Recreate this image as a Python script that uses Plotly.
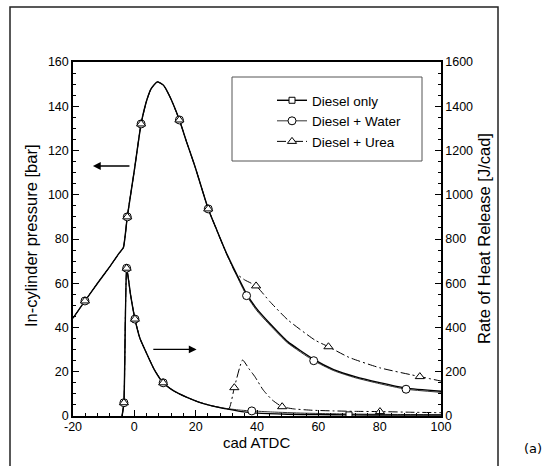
import plotly.graph_objects as go

# ---------------- data ----------------
# In-cylinder pressure [bar] vs crank angle [cad ATDC]
p_water_x = [-20, -16.1, -12, -8, -5, -3.6, -2.3, 0, 2.2, 4, 5.5, 7.5, 9.5, 11.6, 14.7, 17, 19.8, 24.1,
             26.9, 30, 33.1, 36.6, 40, 44.2, 50, 58.5, 65, 72, 80, 88.6, 100]
p_water_y = [44.2, 52, 60, 67.5, 73.5, 76, 90, 111, 132, 142.5, 148, 151, 149.5, 144.3, 133.8, 124, 112.7, 93.6,
             84, 73.5, 64.2, 54.4, 47.5, 41.1, 33, 25, 20.5, 17.3, 14.6, 12.1, 10.7]

p_diesel_x = p_water_x
p_diesel_y = [44.2, 52, 60, 67.5, 73.5, 76, 90, 111, 132, 142.5, 148, 151, 149.5, 144.3, 133.8, 124, 112.7, 93.6,
              84, 73.8, 64.8, 55.2, 48.3, 41.8, 33.6, 25.6, 21.0, 17.8, 15.1, 12.6, 11.2]

p_urea_x = [-20, -16.1, -12, -8, -5, -3.6, -2.3, 0, 2.2, 4, 5.5, 7.5, 9.5, 11.6, 14.7, 17, 19.8, 24.1,
            26.9, 30, 33.1, 36, 39.7, 44.2, 50, 58.9, 63.3, 70, 80, 93.1, 100]
p_urea_y = [44.2, 52, 60, 67.5, 73.5, 76, 90, 111, 132, 142.5, 148, 151, 149.5, 144.3, 133.8, 124, 112.7, 93.6,
            84, 73.5, 64.6, 61.5, 58.8, 51.7, 43.5, 34.3, 31.3, 26.5, 21.8, 17.8, 15.8]

# Rate of heat release [J/cad]
h_water_x = [-4.0, -3.4, -2.5, -1.2, 0.2, 1.85, 4, 6.5, 9.4, 13, 17, 21, 25, 30, 35, 38.3, 45, 55, 70, 85, 100]
h_water_y = [0, 60, 668, 545, 438, 350, 283, 210, 150, 112, 85, 63, 47, 34, 26, 23, 18, 13, 9, 7, 6]

h_diesel_x = [-4.0, -3.4, -2.5, -1.2, 0.2, 1.85, 4, 6.5, 9.4, 13, 17, 21, 25, 30, 35, 40, 50, 60, 70, 85, 100]
h_diesel_y = [0, 60, 668, 545, 438, 350, 283, 210, 150, 112, 85, 63, 47, 32, 20, 13, 8, 6, 5, 4, 4]

h_urea_x = [-4.0, -3.4, -2.5, -1.2, 0.2, 1.85, 4, 6.5, 9.4, 13, 17, 21, 25, 28, 30.8, 32.6, 35.3, 37.3,
            39.3, 42, 45, 48.2, 52, 58, 65, 72, 80.1, 90, 100]
h_urea_y = [0, 60, 668, 545, 438, 350, 283, 210, 150, 112, 85, 63, 47, 38, 32, 128, 253, 215,
            178, 118, 72, 42, 32, 26, 23, 21, 20, 17, 15]

# marker positions
m_water_p_x = [-16.1, -2.3, 2.2, 14.7, 24.1, 36.6, 58.5, 88.6]
m_water_p_y = [52, 90, 132, 133.8, 93.6, 54.4, 25, 12.1]
m_urea_p_x = [-16.1, -2.3, 2.2, 14.7, 24.1, 39.7, 63.3, 93.1]
m_urea_p_y = [52, 90, 132, 133.8, 93.6, 58.8, 31.3, 17.8]
m_water_h_x = [-3.4, -2.5, 0.2, 9.4, 38.3]
m_water_h_y = [60, 668, 438, 150, 23]
m_urea_h_x = [-3.4, -2.5, 0.2, 9.4, 32.6, 48.2, 80.1]
m_urea_h_y = [60, 668, 438, 150, 128, 42, 20]
m_diesel_h_x = [70]
m_diesel_h_y = [5]

series_names = ["Diesel only", "Diesel + Water", "Diesel + Urea"]

# tick labels
x_tickvals = [-20, 0, 20, 40, 60, 80, 100]
x_ticktext = ["-20", "0", "20", "40", "60", "80", "100"]

# arrows (tail -> head) in data units of the pressure axis
arrow_p = dict(tail_x=-1.1, head_x=-13.5, y=113)
arrow_h = dict(tail_x=5.7, head_x=20.3, y=30.1)

# ---------------- figure ----------------
FONT = "Liberation Sans, Arial, sans-serif"
fig = go.Figure()

line_styles = {
    "Diesel only": dict(color="#000000", width=1.4, dash="solid"),
    "Diesel + Water": dict(color="#333333", width=1.0, dash="solid"),
    "Diesel + Urea": dict(color="#000000", width=1.0, dash="9px,3px,2px,3px"),
}
marker_styles = {
    "Diesel only": dict(symbol="square", size=6, color="white", line=dict(color="black", width=1)),
    "Diesel + Water": dict(symbol="circle", size=8, color="white", line=dict(color="black", width=1)),
    "Diesel + Urea": dict(symbol="triangle-up", size=8, color="white", line=dict(color="black", width=1)),
}

def add_line(x, y, name, yaxis):
    fig.add_trace(go.Scatter(x=x, y=y, mode="lines", line=dict(shape="spline", smoothing=0.5, **line_styles[name]),
                             showlegend=False, yaxis=yaxis, hoverinfo="skip"))

def add_markers(x, y, name, yaxis):
    fig.add_trace(go.Scatter(x=x, y=y, mode="markers", marker=marker_styles[name],
                             showlegend=False, yaxis=yaxis, hoverinfo="skip"))

# pressure curves
add_line(p_urea_x, p_urea_y, "Diesel + Urea", "y")
add_line(p_water_x, p_water_y, "Diesel + Water", "y")
add_line(p_diesel_x, p_diesel_y, "Diesel only", "y")
# heat release curves
add_line(h_urea_x, h_urea_y, "Diesel + Urea", "y2")
add_line(h_water_x, h_water_y, "Diesel + Water", "y2")
add_line(h_diesel_x, h_diesel_y, "Diesel only", "y2")
# markers
add_markers(m_water_p_x, m_water_p_y, "Diesel + Water", "y")
add_markers(m_urea_p_x, m_urea_p_y, "Diesel + Urea", "y")
add_markers(m_water_h_x, m_water_h_y, "Diesel + Water", "y2")
add_markers(m_urea_h_x, m_urea_h_y, "Diesel + Urea", "y2")
add_markers(m_diesel_h_x, m_diesel_h_y, "Diesel only", "y2")

# legend entries
for nm in series_names:
    fig.add_trace(go.Scatter(x=[None], y=[None], mode="lines+markers", name=nm,
                             line=line_styles[nm], marker=marker_styles[nm]))

# layout geometry (pixels)
W, H = 554, 466
L, R, T, B = 73, 441, 62, 416
pw, ph = R - L, B - T
def px(xp):
    return (xp - L) / pw
def py(yp):
    return (B - yp) / ph

axis_common = dict(showgrid=False, zeroline=False, showline=True, linecolor="black", linewidth=1.5,
                   ticks="inside", tickcolor="black", tickwidth=1.2,
                   tickfont=dict(family=FONT, size=12.5, color="black"))

fig.update_layout(
    width=W, height=H,
    margin=dict(l=L, r=W - R, t=T, b=H - B),
    paper_bgcolor="white", plot_bgcolor="white",
    font=dict(family=FONT, color="black"),
    xaxis=dict(range=[-20, 100], tickvals=x_tickvals, ticktext=x_ticktext, ticklen=6, mirror=True,
               ticklabelstandoff=-2,
               minor=dict(dtick=4, ticklen=3.5, ticks="inside", tickcolor="black", tickwidth=1, showgrid=False),
               **axis_common),
    yaxis=dict(range=[0, 160], dtick=20, ticklen=6,
               minor=dict(dtick=5, ticklen=3.5, ticks="inside", tickcolor="black", tickwidth=1, showgrid=False),
               **axis_common),
    yaxis2=dict(range=[0, 1600], dtick=200, ticklen=6, overlaying="y", side="right",
                minor=dict(dtick=50, ticklen=3.5, ticks="inside", tickcolor="black", tickwidth=1, showgrid=False),
                **axis_common),
    showlegend=True,
    legend=dict(x=px(272), y=py(85), xanchor="left", yanchor="top", bgcolor="rgba(0,0,0,0)",
                borderwidth=0, font=dict(family=FONT, size=13.5, color="black"), tracegroupgap=0),
)

# legend box and outer frame
fig.add_shape(type="rect", xref="paper", yref="paper", x0=px(232), x1=px(422), y0=py(161), y1=py(77),
              line=dict(color="#555555", width=1), fillcolor="rgba(0,0,0,0)")
fig.add_shape(type="rect", xref="paper", yref="paper", x0=px(10), x1=px(498), y0=py(480), y1=py(7),
              line=dict(color="#222222", width=1.5), fillcolor="rgba(0,0,0,0)")

# axis titles
def label(text, x, y, size, angle=0, family=FONT):
    fig.add_annotation(text=text, xref="paper", yref="paper", x=px(x), y=py(y), xanchor="center",
                       yanchor="middle", textangle=angle, showarrow=False,
                       font=dict(family=family, size=size, color="black"))

label("In-cylinder pressure [bar]", 31, 236, 16.5, -90)
label("Rate of Heat Release [J/cad]", 484, 239, 16.5, -90)
label("cad ATDC", 256, 442, 15)
label("(a)", 533, 448, 13, family="DejaVu Sans, Verdana, sans-serif")

# arrows
for a in (arrow_p, arrow_h):
    fig.add_annotation(x=a["head_x"], y=a["y"], ax=a["tail_x"], ay=a["y"], xref="x", yref="y",
                       axref="x", ayref="y", showarrow=True, arrowhead=2, arrowsize=1.2, arrowwidth=1.3,
                       arrowcolor="black", text="")

fig.write_html("out.html")
